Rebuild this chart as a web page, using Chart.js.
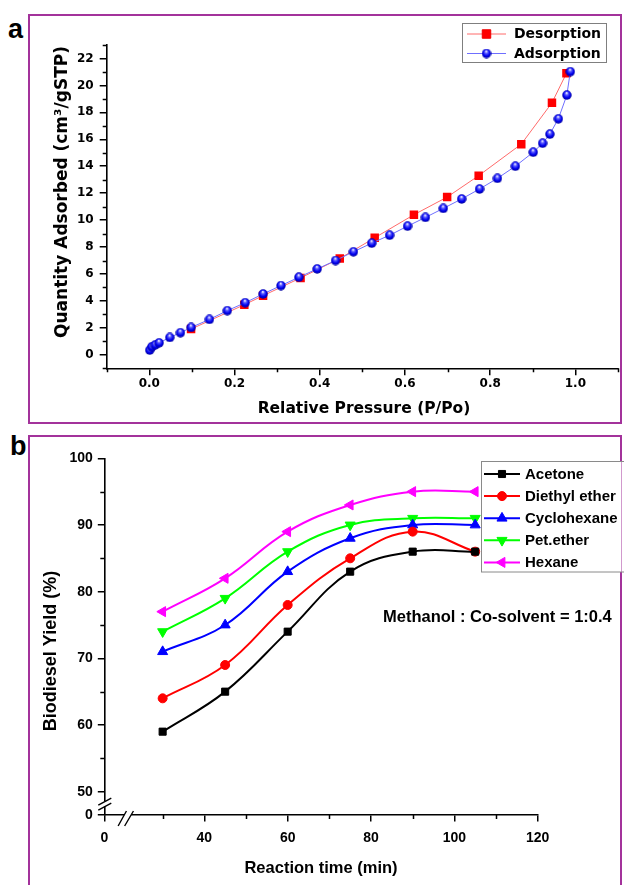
<!DOCTYPE html>
<html>
<head>
<meta charset="utf-8">
<script src="https://cdn.jsdelivr.net/npm/chart.js@4/dist/chart.umd.min.js"></script>
<style>
  html, body { margin: 0; padding: 0; background: #fff; width: 624px; height: 885px; overflow: hidden; }
  .frame { position: absolute; border: 2.5px solid #a3329b; box-sizing: border-box; }
  .tag { position: absolute; font: bold 27px "Liberation Sans", Arial, sans-serif; color: #000; line-height: 1; }
  canvas { position: absolute; left: 0; }
</style>
</head>
<body>
<div class="frame" style="left:28px;top:14px;width:594px;height:410px"></div>
<div class="frame" style="left:28px;top:435px;width:594px;height:470px"></div>
<div class="tag" style="left:8px;top:16px">a</div>
<div class="tag" style="left:10px;top:433px">b</div>
<canvas id="isotherm" width="624" height="430" style="top:0"></canvas>
<canvas id="yield" width="624" height="455" style="top:430px"></canvas>

<script>
// ---- (a) N2 adsorption / desorption isotherm ----
const adsorptionPressure = [0.001, 0.006, 0.014, 0.023, 0.048, 0.073, 0.098, 0.141, 0.183, 0.225, 0.267,
  0.309, 0.351, 0.394, 0.437, 0.479, 0.522, 0.564, 0.606, 0.648, 0.690, 0.733, 0.775, 0.817, 0.859,
  0.901, 0.923, 0.940, 0.960, 0.980, 0.988];
const adsorptionQuantity = [0.35, 0.60, 0.74, 0.89, 1.29, 1.64, 2.03, 2.63, 3.28, 3.87, 4.52,
  5.14, 5.76, 6.38, 7.00, 7.65, 8.29, 8.88, 9.55, 10.20, 10.87, 11.57, 12.31, 13.10, 14.00,
  15.04, 15.71, 16.38, 17.52, 19.28, 21.02];
const desorptionPressure = [0.979, 0.945, 0.873, 0.773, 0.699, 0.621, 0.529, 0.447, 0.355, 0.267, 0.223, 0.098];
const desorptionQuantity = [20.90, 18.71, 15.64, 13.30, 11.71, 10.40, 8.69, 7.15, 5.71, 4.39, 3.72, 1.91];

const pressureTicks = [0, 0.2, 0.4, 0.6, 0.8, 1.0];
const pressureTickLabels = ['0.0', '0.2', '0.4', '0.6', '0.8', '1.0'];
const pressureMinorTicks = [-0.1, 0.1, 0.3, 0.5, 0.7, 0.9, 1.1];
const quantityTicks = [0, 2, 4, 6, 8, 10, 12, 14, 16, 18, 20, 22];
const quantityMinorTicks = [-1, 1, 3, 5, 7, 9, 11, 13, 15, 17, 19, 21, 23];

// ---- (b) biodiesel yield vs reaction time for each co-solvent ----
const reactionTime = [30, 45, 60, 75, 90, 105];
const yieldAcetone = [59, 65, 74, 83, 86, 86];
const yieldDiethylEther = [64, 69, 78, 85, 89, 86];
const yieldCyclohexane = [71, 75, 83, 88, 90, 90];
const yieldPetEther = [74, 79, 86, 90, 91, 91];
const yieldHexane = [77, 82, 89, 93, 95, 95];
const solventNames = ['Acetone', 'Diethyl ether', 'Cyclohexane', 'Pet.ether', 'Hexane'];

// both axes are broken: the first tick stands for 0
const timeTicks = [16, 40, 60, 80, 100, 120];
const timeTickLabels = ['0', '40', '60', '80', '100', '120'];
const timeMinorTicks = [30, 50, 70, 90, 110];
const yieldTicks = [46.5, 50, 60, 70, 80, 90, 100];
const yieldTickLabels = ['0', '50', '60', '70', '80', '90', '100'];
const yieldMinorTicks = [55, 65, 75, 85, 95];

const ratioNote = 'Methanol : Co-solvent = 1:0.4';

// ---------------------------------------------------------------
const FONT_A = '"DejaVu Sans", Verdana, sans-serif';
const FONT_B = '"Liberation Sans", Arial, sans-serif';

function makeSphere(d) {
  const c = document.createElement('canvas');
  c.width = c.height = d;
  const g = c.getContext('2d');
  const r = d / 2;
  const grad = g.createRadialGradient(r * 0.95, r * 0.55, r * 0.05, r, r, r);
  grad.addColorStop(0, '#ffffff');
  grad.addColorStop(0.28, '#5a5aff');
  grad.addColorStop(0.65, '#0000f0');
  grad.addColorStop(1, '#000090');
  g.fillStyle = grad;
  g.beginPath();
  g.arc(r, r, r - 0.3, 0, Math.PI * 2);
  g.fill();
  return c;
}
const sphere = makeSphere(10);

function drawMinor(ctx, scale, values, len) {
  ctx.save();
  ctx.strokeStyle = '#000';
  ctx.lineWidth = 1.5;
  ctx.beginPath();
  values.forEach(v => {
    const p = Math.round(scale.getPixelForValue(v)) + 0.5;
    if (scale.isHorizontal()) {
      ctx.moveTo(p, scale.top);
      ctx.lineTo(p, scale.top + len);
    } else {
      ctx.moveTo(scale.right, p);
      ctx.lineTo(scale.right - len, p);
    }
  });
  ctx.stroke();
  ctx.restore();
}

function drawText(ctx, text, x, y, font, rotate) {
  ctx.save();
  ctx.font = font;
  ctx.fillStyle = '#000';
  ctx.textAlign = 'center';
  ctx.textBaseline = 'middle';
  ctx.translate(x, y);
  if (rotate) ctx.rotate(-Math.PI / 2);
  ctx.fillText(text, 0, 0);
  ctx.restore();
}

function legendRow(ctx, ds, x0, x1, y, tx, font) {
  ctx.save();
  ctx.strokeStyle = ds.borderColor;
  ctx.lineWidth = ds.borderWidth;
  ctx.beginPath();
  ctx.moveTo(x0, y);
  ctx.lineTo(x1, y);
  ctx.stroke();
  ctx.fillStyle = ds.pointBackgroundColor || ds.borderColor;
  ctx.strokeStyle = ds.pointBorderColor || ds.borderColor;
  ctx.lineWidth = 1;
  Chart.helpers.drawPoint(ctx, {
    pointStyle: ds.pointStyle, radius: ds.pointRadius, rotation: ds.pointRotation || 0, borderWidth: 1
  }, (x0 + x1) / 2, y);
  ctx.font = font;
  ctx.fillStyle = '#000';
  ctx.textAlign = 'left';
  ctx.textBaseline = 'middle';
  ctx.fillText(ds.label, tx, y + 0.5);
  ctx.restore();
}

const axisCommon = (font) => ({
  type: 'linear',
  grid: { drawOnChartArea: false, drawTicks: true, tickLength: 7, color: '#000', lineWidth: 1.5 },
  border: { display: true, color: '#000', width: 1.6 },
  ticks: { color: '#000', font: font, autoSkip: false, maxRotation: 0, minRotation: 0 }
});

// ---------------- panel (a) ----------------
const isothermDecor = {
  id: 'isothermDecor',
  afterDraw(chart) {
    const ctx = chart.ctx;
    const { x, y } = chart.scales;
    drawMinor(ctx, x, pressureMinorTicks, 4);
    drawMinor(ctx, y, quantityMinorTicks, 4);
    drawText(ctx, 'Relative Pressure (P/Po)', 364, 409, 'bold 15.5px ' + FONT_A, false);
    drawText(ctx, 'Quantity Adsorbed (cm\u00B3/gSTP)', 63, 192, 'bold 17px ' + FONT_A, true);

    // legend box
    ctx.save();
    ctx.fillStyle = '#fff';
    ctx.fillRect(462.5, 23.5, 144, 39);
    ctx.strokeStyle = '#7f7f7f';
    ctx.lineWidth = 1;
    ctx.strokeRect(462.5, 23.5, 144, 39);
    ctx.restore();
    const ds = chart.data.datasets;
    legendRow(ctx, ds[1], 467, 506, 34, 514, 'bold 14px ' + FONT_A);
    legendRow(ctx, ds[0], 467, 506, 53.5, 514, 'bold 14px ' + FONT_A);
  }
};

const axA = axisCommon({ family: FONT_A, size: 12, weight: 'bold' });

new Chart(document.getElementById('isotherm'), {
  type: 'line',
  data: {
    datasets: [
      {
        label: 'Adsorption',
        data: adsorptionPressure.map((p, i) => ({ x: p, y: adsorptionQuantity[i] })),
        borderColor: '#6f6fff', borderWidth: 1, tension: 0,
        pointStyle: sphere, pointRadius: 5
      },
      {
        label: 'Desorption',
        data: desorptionPressure.map((p, i) => ({ x: p, y: desorptionQuantity[i] })),
        borderColor: '#ff6a6a', borderWidth: 1, tension: 0,
        pointStyle: 'rect', pointRadius: 6, pointBackgroundColor: '#ff0000',
        pointBorderColor: '#f00000', pointBorderWidth: 0
      }
    ]
  },
  options: {
    responsive: false, animation: false,
    layout: { padding: { left: 0, top: 45, right: 4, bottom: 0 } },
    plugins: { legend: { display: false }, tooltip: { enabled: false } },
    scales: {
      x: Object.assign({}, axA, {
        min: -0.1, max: 1.1,
        afterBuildTicks: s => { s.ticks = pressureTicks.map(v => ({ value: v })); },
        afterFit: s => { s.height = 61.7; },
        ticks: Object.assign({}, axA.ticks, { padding: 1, callback: (v, i) => pressureTickLabels[i] })
      }),
      y: Object.assign({}, axA, {
        min: -1, max: 23,
        afterBuildTicks: s => { s.ticks = quantityTicks.map(v => ({ value: v })); },
        afterFit: s => { s.width = 106.7; },
        ticks: Object.assign({}, axA.ticks, { padding: 6, callback: (v, i) => String(quantityTicks[i]) })
      })
    }
  },
  plugins: [isothermDecor]
});

// ---------------- panel (b) ----------------
const solventStyles = [
  { color: '#000000', pointStyle: 'rect', radius: 5, rotation: 0 },
  { color: '#ff0000', pointStyle: 'circle', radius: 4.5, rotation: 0 },
  { color: '#0000ff', pointStyle: 'triangle', radius: 5.8, rotation: 0 },
  { color: '#00ff00', pointStyle: 'triangle', radius: 5.8, rotation: 180 },
  { color: '#ff00ff', pointStyle: 'triangle', radius: 5.8, rotation: -90 }
];
const solventSeries = [yieldAcetone, yieldDiethylEther, yieldCyclohexane, yieldPetEther, yieldHexane];

const yieldDecor = {
  id: 'yieldDecor',
  afterDraw(chart) {
    const ctx = chart.ctx;
    const { x, y } = chart.scales;
    drawMinor(ctx, x, timeMinorTicks, 4);
    drawMinor(ctx, y, yieldMinorTicks, 4);

    // break marks on the y axis
    const by = y.getPixelForValue(48.2);
    const ax = y.right;
    ctx.save();
    ctx.fillStyle = '#fff';
    ctx.fillRect(ax - 2, by - 2.5, 4, 5);
    ctx.strokeStyle = '#000';
    ctx.lineWidth = 1.4;
    ctx.beginPath();
    ctx.moveTo(ax - 6, by + 1.5); ctx.lineTo(ax + 7, by - 5.5);
    ctx.moveTo(ax - 6, by + 6.5); ctx.lineTo(ax + 7, by - 0.5);
    ctx.stroke();
    // break marks on the x axis
    const bx = x.getPixelForValue(21.6);
    const ay = x.top;
    ctx.fillStyle = '#fff';
    ctx.fillRect(bx - 3.5, ay - 2, 7, 4);
    ctx.beginPath();
    ctx.moveTo(bx - 9.5, ay + 11); ctx.lineTo(bx - 1.2, ay - 4);
    ctx.moveTo(bx - 3, ay + 11); ctx.lineTo(bx + 5.8, ay - 4);
    ctx.stroke();
    ctx.restore();

    drawText(ctx, 'Reaction time (min)', 321, 438, 'bold 16.5px ' + FONT_B, false);
    drawText(ctx, 'Biodiesel Yield (%)', 51, 221, 'bold 18px ' + FONT_B, true);

    ctx.save();
    ctx.font = 'bold 16.5px ' + FONT_B;
    ctx.fillStyle = '#000';
    ctx.textAlign = 'left';
    ctx.textBaseline = 'middle';
    ctx.fillText(ratioNote, 383, 187);
    ctx.restore();

    // legend box
    ctx.save();
    ctx.fillStyle = '#fff';
    ctx.fillRect(481.5, 31.5, 140, 110.5);
    ctx.strokeStyle = '#8a8a8a';
    ctx.lineWidth = 1;
    ctx.strokeRect(481.5, 31.5, 145, 110.5);
    ctx.restore();
    chart.data.datasets.forEach((ds, i) => {
      legendRow(ctx, ds, 484, 520, 44 + i * 22.1, 525, 'bold 15px ' + FONT_B);
    });
  }
};

const axB = axisCommon({ family: FONT_B, size: 14, weight: 'bold' });
axB.grid = Object.assign({}, axB.grid, { tickLength: 6.5 });

new Chart(document.getElementById('yield'), {
  type: 'line',
  data: {
    datasets: solventNames.map((name, k) => ({
      label: name,
      data: reactionTime.map((t, i) => ({ x: t, y: solventSeries[k][i] })),
      borderColor: solventStyles[k].color,
      backgroundColor: solventStyles[k].color,
      pointBackgroundColor: solventStyles[k].color,
      pointBorderColor: solventStyles[k].color,
      borderWidth: 2,
      tension: 0.4,
      pointStyle: solventStyles[k].pointStyle,
      pointRadius: solventStyles[k].radius,
      pointRotation: solventStyles[k].rotation,
      pointBorderWidth: 1
    }))
  },
  options: {
    responsive: false, animation: false,
    layout: { padding: { left: 0, top: 28.3, right: 86.3, bottom: 0 } },
    plugins: { legend: { display: false }, tooltip: { enabled: false } },
    scales: {
      x: Object.assign({}, axB, {
        min: 16, max: 120,
        afterBuildTicks: s => { s.ticks = timeTicks.map(v => ({ value: v })); },
        afterFit: s => { s.height = 70; },
        ticks: Object.assign({}, axB.ticks, { padding: 8, callback: (v, i) => timeTickLabels[i] })
      }),
      y: Object.assign({}, axB, {
        min: 46.5, max: 100,
        afterBuildTicks: s => { s.ticks = yieldTicks.map(v => ({ value: v })); },
        afterFit: s => { s.width = 104.3; },
        ticks: Object.assign({}, axB.ticks, { padding: 5, callback: (v, i) => yieldTickLabels[i] })
      })
    }
  },
  plugins: [yieldDecor]
});
</script>
</body>
</html>
